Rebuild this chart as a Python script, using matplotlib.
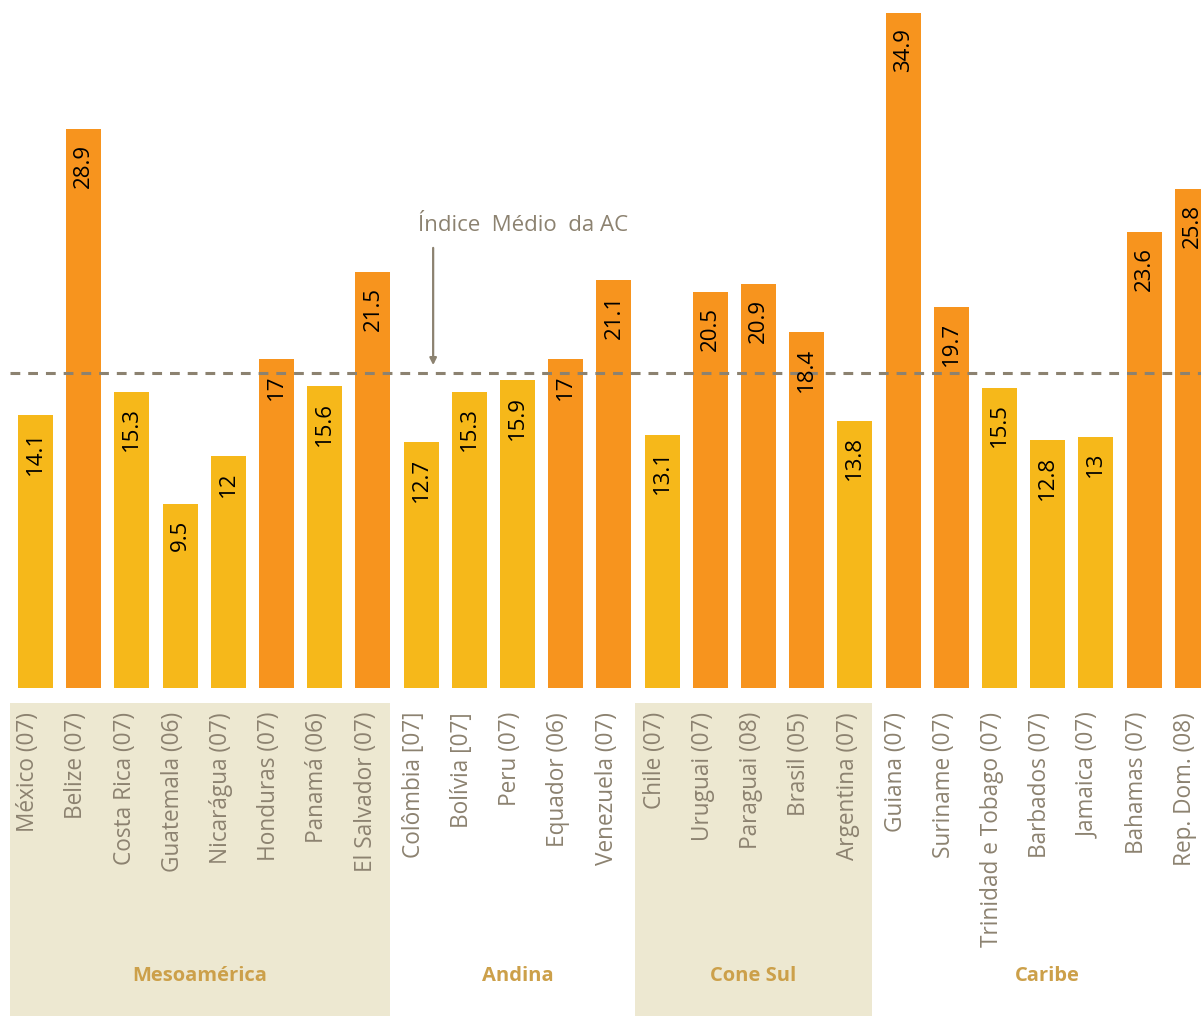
import matplotlib
matplotlib.use("Agg")
import matplotlib.pyplot as plt

# dados
paises = ["México (07)", "Belize (07)", "Costa Rica (07)", "Guatemala (06)",
          "Nicarágua (07)", "Honduras (07)", "Panamá (06)", "El Salvador (07)",
          "Colômbia [07]", "Bolívia [07]", "Peru (07)", "Equador (06)",
          "Venezuela (07)", "Chile (07)", "Uruguai (07)", "Paraguai (08)",
          "Brasil (05)", "Argentina (07)", "Guiana (07)", "Suriname (07)",
          "Trinidad e Tobago (07)", "Barbados (07)", "Jamaica (07)",
          "Bahamas (07)", "Rep. Dom. (08)"]
valores = [14.1, 28.9, 15.3, 9.5, 12, 17, 15.6, 21.5,
           12.7, 15.3, 15.9, 17, 21.1,
           13.1, 20.5, 20.9, 18.4, 13.8,
           34.9, 19.7, 15.5, 12.8, 13, 23.6, 25.8]
rotulos = ["14.1", "28.9", "15.3", "9.5", "12", "17", "15.6", "21.5",
           "12.7", "15.3", "15.9", "17", "21.1",
           "13.1", "20.5", "20.9", "18.4", "13.8",
           "34.9", "19.7", "15.5", "12.8", "13", "23.6", "25.8"]
media = 16.3
regioes = ["Mesoamérica", "Andina", "Cone Sul", "Caribe"]
regiao_inicio = [0, 8, 13, 18]
regiao_fim = [7, 12, 17, 24]
regiao_fundo = [True, False, True, False]

AMARELO = "#F6B81A"
LARANJA = "#F7941E"
CINZA = "#8C8270"
BEGE = "#EDE8D1"
OURO = "#CCA04A"

plt.rcParams['font.family'] = ['Open Sans', 'DejaVu Sans']

fig = plt.figure(figsize=(12.01, 10.16), dpi=100)
base = 328 / 1016
ax = fig.add_axes([0, base, 1, 1 - base])
ax2 = fig.add_axes([0, 0, 1, base])

x0 = -35.5 / 48.2
x1 = (1201 - 35.5) / 48.2
x = list(range(len(valores)))
cores = [LARANJA if v > media else AMARELO for v in valores]

ax.bar(x, valores, width=35 / 48.2, color=cores)
ax.set_xlim(x0, x1)
ax.set_ylim(0, 688 / 19.34)
ax.axis("off")

for xi, v, r in zip(x, valores, rotulos):
    ax.annotate(r, (xi, v), xytext=(0, -11), textcoords="offset points",
                rotation=90, ha="center", va="top", fontsize=16, color="black")

ax.plot([(10 - 35.5) / 48.2, x1], [media, media], color=CINZA, lw=2.2,
        linestyle=(0, (3.2, 2.6)))
ax.annotate("", xy=(8.25, 16.55), xytext=(8.25, 22.9),
            arrowprops=dict(arrowstyle="-|>", color=CINZA, lw=1.6,
                            mutation_scale=10))
ax.text(7.93, 23.9, "Índice  Médio  da AC", fontsize=16, color=CINZA,
        ha="left", va="center")

# parte de baixo: nomes e regiões
ax2.set_xlim(x0, x1)
ax2.set_ylim(1016, 688)
ax2.axis("off")
fundos = [((10 - 35.5) / 48.2, (390 - 35.5) / 48.2),
          None,
          ((635 - 35.5) / 48.2, (872 - 35.5) / 48.2),
          None]
for nome, a, b, tem, f in zip(regioes, regiao_inicio, regiao_fim, regiao_fundo, fundos):
    if tem:
        ax2.fill_between([f[0], f[1]], 703, 1016, color=BEGE, lw=0)
        cx = (f[0] + f[1]) / 2
    else:
        cx = (a + b) / 2
    ax2.text(cx, 976, nome, ha="center", va="center", fontsize=14.5,
             fontweight="bold", color=OURO)

for xi, p in zip(x, paises):
    ax2.text(xi - 0.15, 712, p, rotation=90, ha="center", va="top",
             fontsize=16.3, color=CINZA)

fig.savefig("out.png", dpi=100)
